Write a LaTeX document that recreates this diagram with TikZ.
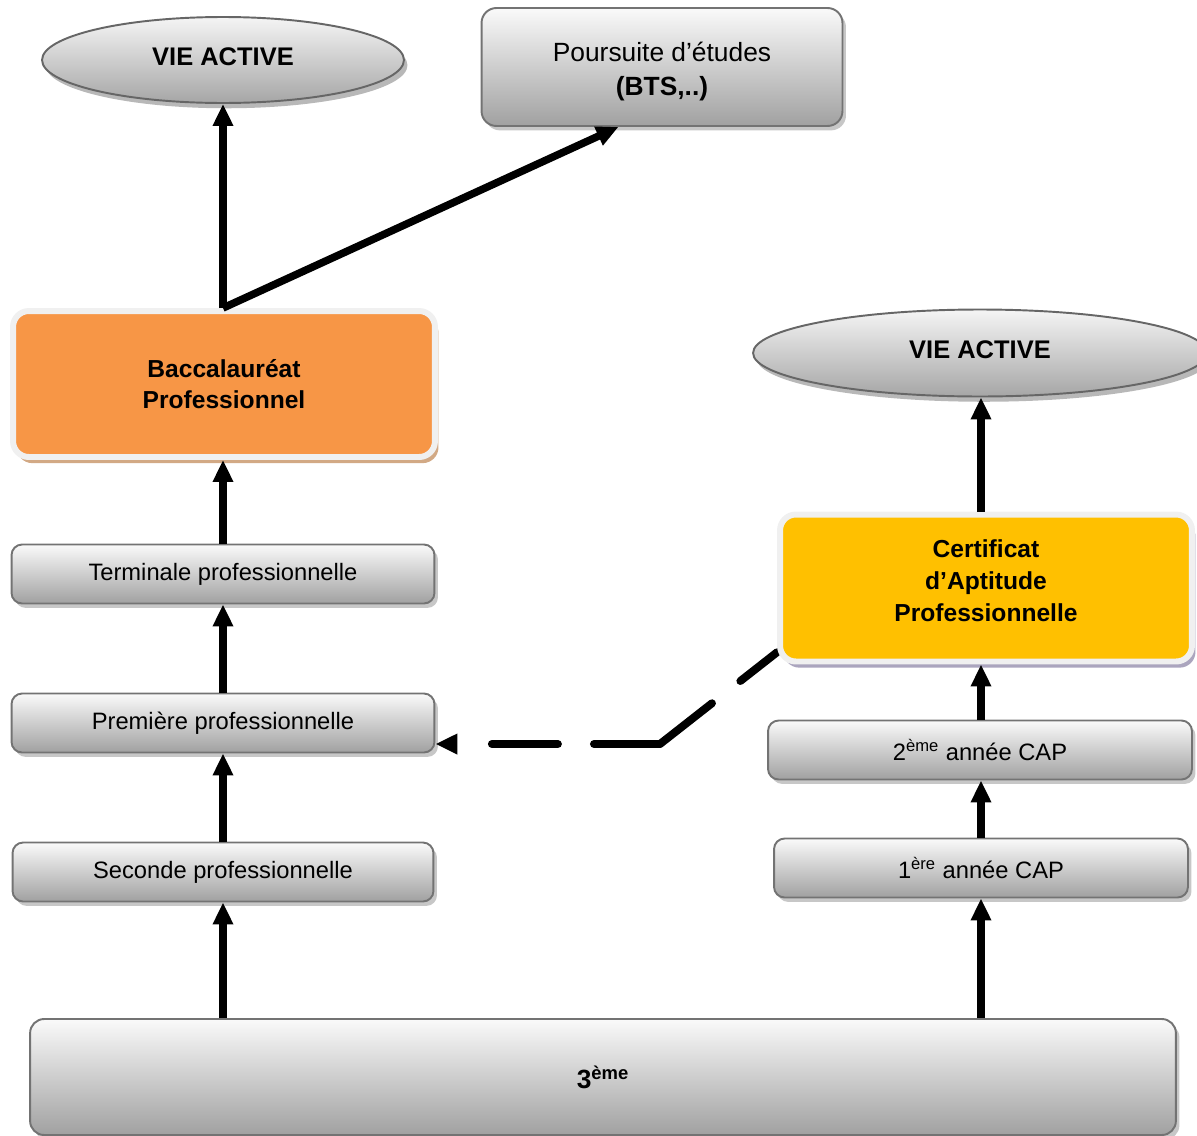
\documentclass[tikz,border=0pt]{standalone}
\usepackage{fontspec}
\setmainfont{Liberation Sans}
\usetikzlibrary{shapes.geometric, arrows.meta, positioning, shadows, backgrounds, calc}

\definecolor{bacorange}{HTML}{F79646}
\definecolor{capyellow}{HTML}{FFC000}
\definecolor{bacshadow}{HTML}{D2A985}
\definecolor{capshadow}{HTML}{ABA5BE}

\begin{document}
\begin{tikzpicture}[
    x=0.02cm, y=-0.02cm,
    grad/.style={rectangle, rounded corners=6pt, draw=black!55, line width=1.1pt, top color=white!98!black, bottom color=black!37, align=center, drop shadow={shadow xshift=2pt, shadow yshift=-2.5pt, fill=black!22, opacity=1}},
    level/.style={grad, minimum height=1.18cm, font=\fontsize{13.5}{16}\selectfont},
    outcome/.style={ellipse, draw=black!60, line width=1.1pt, top color=white!96!black, bottom color=black!35, font=\fontsize{14.5}{17}\selectfont\bfseries, text depth=0.12cm, drop shadow={shadow xshift=2pt, shadow yshift=-3pt, fill=black!28, opacity=1}},
    diploma/.style={rectangle, rounded corners=9pt, draw=white!94!black, line width=3.4pt, align=center, font=\fontsize{14}{18}\selectfont\bfseries},
    uparrow/.style={line width=4.3pt, -{Triangle[length=12.5pt, width=11pt]}},
    link/.style={line width=4.5pt, line cap=round, dash pattern=on 37.6pt off 20.5pt}
]
\useasboundingbox (0,0) rectangle (1197,1136);

% Exits at the top
\node[outcome, minimum width=7.24cm, minimum height=1.72cm] (vie1) at (223,60) {VIE ACTIVE};
\node[grad, rounded corners=8.5pt, minimum width=7.22cm, minimum height=2.36cm, text height=1.23cm, font=\fontsize{15}{18.8}\selectfont] (etudes) at (662,67) {Poursuite d’études\\\textbf{(BTS,..)}};

% Bac pro column
\node[diploma, fill=bacorange, minimum width=8.44cm, minimum height=2.92cm, drop shadow={shadow xshift=2pt, shadow yshift=-3.5pt, fill=bacshadow, opacity=1}] (bac) at (224,384) {Baccalauréat\\Professionnel};
\node[level, minimum width=8.46cm] (term) at (223,574) {Terminale professionnelle};
\node[level, minimum width=8.46cm] (prem) at (223,723) {Première professionnelle};
\node[level, minimum width=8.42cm] (sec) at (223,872) {Seconde professionnelle};

% CAP column
\node[outcome, minimum width=9.08cm, minimum height=1.74cm] (vie2) at (980,353) {VIE ACTIVE};
\node[diploma, fill=capyellow, minimum width=8.24cm, minimum height=2.94cm, text depth=0.3cm, drop shadow={shadow xshift=2pt, shadow yshift=-3.5pt, fill=capshadow, opacity=1}] (cap) at (986,588) {Certificat\\d’Aptitude\\Professionnelle};
\node[level, minimum width=8.48cm] (deux) at (980,750) {2\textsuperscript{ème} année CAP};
\node[level, minimum width=8.28cm] (un) at (981,868) {1\textsuperscript{ère} année CAP};

% 3eme
\node[grad, rounded corners=8pt, minimum width=22.92cm, minimum height=2.32cm, font=\fontsize{15}{18}\selectfont\bfseries] (trois) at (603,1077) {3\textsuperscript{ème}};

% Arrows, bac pro side
\draw[uparrow] (sec |- trois.north) -- (sec.south);
\draw[uparrow] (sec.north) -- (prem.south);
\draw[uparrow] (prem.north) -- (term.south);
\draw[uparrow] (term.north) -- (term |- bac.south);
\draw[uparrow] (term |- bac.north) -- (vie1.south);
\draw[uparrow] (term |- bac.north) -- ($(etudes.south west)!0.38!(etudes.south east)$);

% Arrows, CAP side
\draw[uparrow] (un |- trois.north) -- (un.south);
\draw[uparrow] (un.north) -- (un |- deux.south);
\draw[uparrow] (un |- deux.north) -- (un |- cap.south);
\draw[uparrow] (un |- cap.north) -- (un |- vie2.south);

% CAP to premiere
\coordinate (bend) at (660,744);
\begin{pgfonlayer}{background}
\draw[link] (bend) -- ($(cap.south west)!0.08!(cap.north west)$);
\end{pgfonlayer}
\draw[link, -{Triangle[length=12.5pt, width=11pt]}] (bend) -- (bend -| prem.east);

\end{tikzpicture}
\end{document}
